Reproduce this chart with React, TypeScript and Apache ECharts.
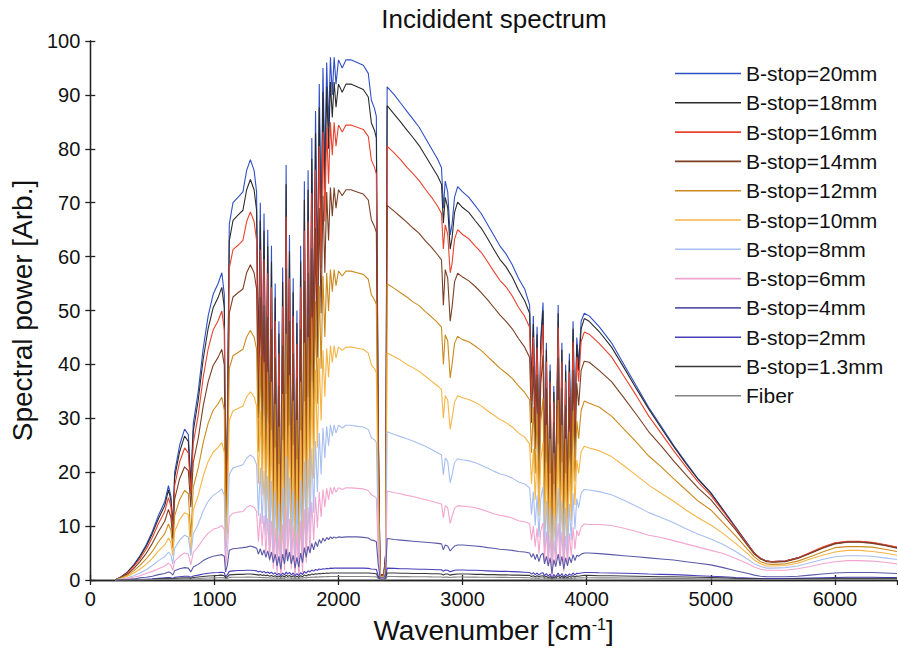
import React, { useEffect, useRef } from "react";
import * as echarts from "echarts";

// Wavenumber grid [cm^-1] shared by all series
const wavenumbers = [
  200, 250, 300, 350, 400, 450, 500, 550, 600, 630, 650, 665, 680, 720, 760, 790, 810, 830, 870, 910, 950, 990, 1030, 1060, 1080, 1090, 1105, 1120, 1150, 1190, 1230, 1260, 1290, 1320,
  1340, 1355, 1370, 1385, 1400, 1415, 1430, 1445, 1460, 1475, 1490, 1505, 1520, 1535, 1550, 1565, 1578, 1590, 1605, 1620, 1635, 1650, 1665, 1680, 1695, 1710, 1725, 1740, 1755, 1770, 1785, 1800, 1815, 1830, 1845, 1860, 1875, 1890, 1905, 1920, 1935, 1950, 1965, 1980,
  2000, 2030, 2060, 2100, 2150, 2200, 2240, 2265, 2290, 2305, 2320, 2335, 2365, 2380, 2392,
  2450, 2500, 2550, 2600, 2650, 2700, 2750, 2800, 2830, 2845, 2860, 2880, 2900, 2915, 2935, 2960, 3000, 3050, 3100, 3150, 3200, 3250, 3300, 3350, 3400, 3450, 3500,
  3540, 3555, 3570, 3585, 3600, 3615, 3630, 3648, 3660, 3675, 3690, 3705, 3720, 3735, 3750, 3770, 3785, 3800, 3815, 3830, 3845, 3860, 3875, 3890, 3905, 3920, 3935, 3955,
  3980, 4020, 4100, 4200, 4300, 4400, 4500, 4600, 4700, 4800, 4900, 5000, 5100, 5200, 5300, 5350, 5400, 5450, 5500, 5600, 5700, 5800, 5900, 6000, 6100, 6200, 6300, 6400, 6500,
];

const seriesNames = [
  "B-stop=20mm", "B-stop=18mm", "B-stop=16mm", "B-stop=14mm", "B-stop=12mm", "B-stop=10mm",
  "B-stop=8mm", "B-stop=6mm", "B-stop=4mm", "B-stop=2mm", "B-stop=1.3mm", "Fiber",
];

const seriesColors = [
  "#2f4fc4", "#2b2b2b", "#e8432e", "#7b3f23", "#cc8a1e", "#f5b547",
  "#a9bff0", "#f2a6cf", "#5b5aa8", "#4a3fb8", "#3a3a3a", "#858585",
];

const bstop20 = [
  0, 0.6, 1.5, 2.8, 4.5, 6.5, 9, 12, 14.5, 17.5, 15.5, 10, 20, 25, 28, 27, 18, 29, 35, 43, 49, 53, 55, 57, 53, 14, 30, 66, 70, 71, 72, 76, 78, 76,
  72, 40, 70, 35, 68, 28, 65, 20, 62, 12, 55, 6, 48, 3, 58, 10, 77, 22, 64, 12, 56, 4, 50, 3, 62, 8, 74, 18, 76, 30, 82, 42, 87, 55, 92, 66, 95, 76, 96, 84, 97, 90, 97, 92,
  96.5, 95, 96.5, 96.5, 96, 95.5, 94, 89, 87.5, 86, 30, 1, 1, 5, 91.5,
  90, 88.5, 87, 85.5, 84, 82, 80, 78, 76.5, 69, 74, 72, 64, 66, 71, 73, 72, 71, 69.5, 68, 66, 64, 62, 60.5, 58.5, 56, 54,
  51, 36, 49, 30, 47, 24, 45, 51.5, 18, 44, 12, 40, 3, 36, 14, 51, 16, 44, 8, 40, 14, 42, 22, 48, 28, 45, 40, 48,
  49.5, 49, 47, 44, 40, 36, 32, 28.5, 25, 21.8, 18.7, 16.2, 13, 9.8, 6.6, 5, 4, 3.5, 3.4, 3.5, 4.1, 5, 6, 6.8, 7.1, 7.1, 6.9, 6.5, 6,
];

const bstop18 = [
  0, 0.6, 1.4, 2.7, 4.3, 6.2, 8.6, 11.4, 13.8, 16.7, 14.8, 9.5, 19.1, 23.8, 26.7, 25.7, 17.2, 27.6, 33.4, 41, 46.7, 50.5, 52.4, 54.3, 50.5, 13.3, 28.6, 62.9, 66.7, 67.7, 68.6, 72.4, 74.3, 72.4,
  68.6, 38.1, 66.7, 33.4, 64.8, 26.7, 61.9, 19.1, 59.1, 11.4, 52.4, 5.7, 45.7, 2.9, 55.3, 9.5, 73.4, 21, 61, 11.4, 53.4, 3.8, 47.7, 2.9, 59.1, 7.6, 70.5, 17.2, 72.4, 28.6, 78.1, 40, 82.9, 52.4, 87.7, 62.9, 90.5, 72.4, 91.5, 80, 92.4, 85.8, 92.4, 87.7,
  92, 90.5, 92, 92, 91.5, 91, 89.6, 84.8, 83.4, 82, 28.6, 1, 1, 4.8, 88,
  86.4, 85, 83.5, 82.1, 80.6, 78.7, 76.8, 74.9, 73.4, 66.2, 71, 69.1, 61.4, 63.4, 68.2, 70.1, 69.1, 68.2, 66.7, 65.3, 63.4, 61.4, 59.5, 58.1, 56.2, 53.8, 51.8,
  49.5, 34.9, 47.5, 29.1, 45.6, 23.3, 43.7, 50, 17.5, 42.7, 11.6, 38.8, 2.9, 34.9, 13.6, 49.5, 15.5, 42.7, 7.8, 38.8, 13.6, 40.7, 21.3, 46.6, 27.2, 43.7, 38.8, 46.6,
  48.5, 48, 46.1, 43.2, 39.4, 35.5, 31.7, 28.2, 24.8, 21.6, 18.6, 16.1, 12.9, 9.7, 6.5, 5, 4, 3.5, 3.4, 3.5, 4.1, 5, 6, 6.8, 7.1, 7.1, 6.9, 6.5, 6,
];

const bstop16 = [
  0, 0.5, 1.3, 2.5, 3.9, 5.7, 7.9, 10.5, 12.7, 15.3, 13.6, 8.8, 17.5, 21.9, 24.5, 23.6, 15.8, 25.4, 30.6, 37.6, 42.9, 46.4, 48.1, 49.9, 46.4, 12.3, 26.3, 57.8, 61.3, 62.1, 63, 66.5, 68.3, 66.5,
  63, 35, 61.3, 30.6, 59.5, 24.5, 56.9, 17.5, 54.3, 10.5, 48.1, 5.3, 42, 2.6, 50.8, 8.8, 67.4, 19.3, 56, 10.5, 49, 3.5, 43.8, 2.6, 54.3, 7, 64.8, 15.8, 66.5, 26.3, 71.8, 36.8, 76.1, 48.1, 80.5, 57.8, 83.1, 66.5, 84, 73.5, 84.9, 78.8, 84.9, 80.5,
  84.4, 83.1, 84.4, 84.4, 84, 83.6, 82.3, 77.9, 76.6, 75.3, 26.3, 0.9, 0.9, 4.4, 80.5,
  79.2, 78, 76.6, 75.4, 74.1, 72.5, 71, 69.3, 68, 61.4, 65.9, 64.1, 57, 58.7, 63.2, 65, 64.1, 63.3, 62, 60.8, 59.1, 57.3, 55.6, 54.4, 52.7, 50.6, 48.9,
  46.9, 33.1, 45.1, 27.6, 43.2, 22.1, 41.4, 47.4, 16.6, 40.5, 11, 36.8, 2.8, 33.1, 12.9, 46.9, 14.7, 40.5, 7.4, 36.8, 12.9, 38.6, 20.2, 44.2, 25.8, 41.4, 36.8, 44.2,
  46, 45.6, 43.9, 41.4, 37.8, 34.2, 30.4, 27.2, 24, 21, 18.1, 15.7, 12.7, 9.6, 6.5, 5, 4, 3.5, 3.4, 3.5, 4.1, 5.1, 6.1, 6.9, 7.2, 7.2, 7, 6.6, 6.1,
];

const bstop14 = [
  0, 0.5, 1.1, 2.1, 3.4, 4.9, 6.8, 9, 10.9, 13.1, 11.6, 7.5, 15, 18.8, 21, 20.3, 13.5, 21.8, 26.3, 32.3, 36.8, 39.8, 41.3, 42.8, 39.8, 10.5, 22.5, 49.5, 52.5, 53.3, 54, 57, 58.5, 57,
  54, 30, 52.5, 26.3, 51, 21, 48.8, 15, 46.5, 9, 41.3, 4.5, 36, 2.3, 43.5, 7.5, 57.8, 16.5, 48, 9, 42, 3, 37.5, 2.3, 46.5, 6, 55.5, 13.5, 57, 22.5, 61.5, 31.5, 65.3, 41.3, 69, 49.5, 71.3, 57, 72, 63, 72.8, 67.5, 72.8, 69,
  72.4, 71.3, 72.4, 72.4, 72, 71.6, 70.5, 66.8, 65.6, 64.5, 22.5, 0.8, 0.8, 3.8, 69.5,
  68.4, 67.4, 66.4, 65.3, 64.3, 62.9, 61.7, 60.3, 59.4, 51, 57.6, 56, 48, 50.6, 55.3, 56.9, 56.2, 55.5, 54.5, 53.3, 52, 50.6, 49.2, 48, 46.6, 44.8, 43.2,
  41.3, 29.2, 39.7, 24.3, 38.1, 19.4, 36.5, 41.7, 14.6, 35.6, 9.7, 32.4, 2.4, 29.2, 11.3, 41.3, 13, 35.6, 6.5, 32.4, 11.3, 34, 17.8, 38.9, 22.7, 36.5, 32.4, 38.9,
  40.6, 40.4, 38.9, 36.8, 33.8, 30.7, 27.5, 24.9, 22.1, 19.5, 17, 14.9, 12.1, 9.3, 6.3, 4.8, 3.9, 3.4, 3.3, 3.4, 4, 4.9, 5.9, 6.7, 7, 7, 6.8, 6.4, 5.9,
];

const bstop12 = [
  0, 0.4, 0.9, 1.7, 2.7, 3.9, 5.3, 7.1, 8.6, 10.4, 9.2, 5.9, 11.9, 14.9, 16.6, 16, 8, 17.2, 20.8, 25.5, 29.1, 31.5, 32.7, 33.9, 31.5, 8.3, 17.8, 39.2, 41.6, 42.2, 42.8, 45.1, 46.3, 45.1,
  42.8, 23.8, 41.6, 20.8, 40.4, 16.6, 38.6, 11.9, 36.8, 7.1, 32.7, 3.6, 28.5, 1.8, 34.5, 5.9, 45.7, 13.1, 38, 7.1, 33.3, 2.4, 29.7, 1.8, 36.8, 4.8, 44, 10.7, 45.1, 17.8, 48.7, 24.9, 51.7, 32.7, 54.6, 39.2, 56.4, 45.1, 57, 49.9, 57.6, 53.5, 57.6, 54.6,
  57.3, 56.4, 57.3, 57.3, 57, 56.7, 55.8, 52.9, 52, 51.1, 17.8, 0.6, 0.6, 3, 54.9,
  54.1, 53.3, 52.5, 51.6, 50.9, 49.8, 48.8, 47.7, 46.9, 40, 45.5, 44.4, 37.5, 40, 43.9, 45.2, 44.6, 44.2, 43.4, 42.6, 41.5, 40.4, 39.3, 38.4, 37.4, 36, 34.8,
  33.4, 23.6, 32.1, 19.7, 30.8, 15.7, 29.5, 33.7, 11.8, 28.8, 7.9, 26.2, 2, 23.6, 9.2, 33.4, 10.5, 28.8, 5.2, 26.2, 9.2, 27.5, 14.4, 31.4, 18.3, 29.5, 26.2, 31.4,
  33.2, 32.8, 32.1, 30.4, 28, 25.6, 23, 21, 18.8, 16.7, 14.6, 13, 10.6, 8.2, 5.6, 4.3, 3.4, 3, 2.9, 3, 3.5, 4.3, 5.2, 6, 6.2, 6.2, 6.1, 5.7, 5.3,
];

const bstop10 = [
  0, 0.3, 0.7, 1.3, 2, 2.9, 4, 5.4, 6.5, 7.8, 6.9, 4.5, 9, 11.2, 12.5, 12.1, 5, 13, 15.7, 19.3, 22, 23.7, 24.6, 25.5, 23.7, 6.3, 13.4, 29.6, 31.4, 31.8, 32.3, 34, 34.9, 34,
  32.3, 17.9, 31.4, 15.7, 30.5, 12.5, 29.1, 9, 27.8, 5.4, 24.6, 2.7, 21.5, 1.3, 26, 4.5, 34.5, 9.9, 28.7, 5.4, 25.1, 1.8, 22.4, 1.3, 27.8, 3.6, 33.2, 8.1, 34, 13.4, 36.7, 18.8, 39, 24.6, 41.2, 29.6, 42.6, 34, 43, 37.6, 43.5, 40.3, 43.5, 41.2,
  43.2, 42.6, 43.2, 43.2, 43, 42.8, 42.1, 39.9, 39.2, 38.5, 13.4, 0.5, 0.5, 2.2, 42.1,
  41.4, 40.8, 40, 39.4, 38.7, 37.8, 36.9, 36, 35.3, 30, 34.2, 33.4, 28, 30, 33, 34.2, 33.8, 33.5, 33, 32.3, 31.4, 30.6, 29.8, 29.2, 28.4, 27.3, 26.5,
  25.2, 17.8, 24.3, 14.9, 23.3, 11.9, 22.3, 25.5, 8.9, 21.8, 5.9, 19.8, 1.5, 17.8, 6.9, 25.2, 7.9, 21.8, 4, 19.8, 6.9, 20.8, 10.9, 23.8, 13.9, 22.3, 19.8, 23.8,
  24.8, 24.5, 24, 22.9, 21.2, 19.4, 17.6, 16.1, 14.6, 13, 11.5, 10.2, 8.6, 6.8, 4.8, 3.7, 3, 2.6, 2.6, 2.7, 3.1, 3.9, 4.6, 5.2, 5.5, 5.5, 5.3, 5, 4.6,
];

const bstop8 = [
  0, 0.2, 0.4, 0.8, 1.3, 1.9, 2.7, 3.6, 4.3, 5.2, 4.6, 3, 5.9, 7.4, 8.3, 8, 4.5, 8.6, 10.4, 12.8, 14.6, 15.7, 16.3, 16.9, 15.7, 4.2, 8.9, 19.6, 20.8, 21.1, 21.4, 22.6, 23.2, 22.6,
  21.4, 11.9, 20.8, 10.4, 20.2, 8.3, 19.3, 5.9, 18.4, 3.6, 16.3, 1.8, 14.3, 0.9, 17.2, 3, 22.9, 6.5, 19, 3.6, 16.6, 1.2, 14.9, 0.9, 18.4, 2.4, 22, 5.3, 22.6, 8.9, 24.4, 12.5, 25.8, 16.3, 27.3, 19.6, 28.2, 22.6, 28.5, 24.9, 28.8, 26.7, 28.8, 27.3,
  28.7, 28.2, 28.7, 28.7, 28.5, 28.4, 27.9, 26.4, 26, 25.5, 8.9, 0.3, 0.3, 1.5, 27.5,
  27, 26.6, 26.2, 25.8, 25.3, 24.8, 24.2, 23.6, 23.2, 19.5, 22.6, 22, 18, 19.5, 21.8, 22.5, 22.3, 22.1, 21.8, 21.3, 20.8, 20.2, 19.7, 19.4, 18.9, 18.2, 17.8,
  17.1, 12.1, 16.4, 10.1, 15.7, 8, 15.1, 17.3, 6, 14.7, 4, 13.4, 1, 12.1, 4.7, 17.1, 5.4, 14.7, 2.7, 13.4, 4.7, 14.1, 7.4, 16.1, 9.4, 15.1, 13.4, 16.1,
  16.8, 16.7, 16.4, 15.8, 14.8, 13.7, 12.5, 11.6, 10.6, 9.5, 8.5, 7.6, 6.6, 5.3, 3.8, 3, 2.5, 2.2, 2.2, 2.3, 2.6, 3.2, 3.8, 4.3, 4.5, 4.5, 4.4, 4.1, 3.8,
];

const bstop6 = [
  0, 0.1, 0.3, 0.5, 0.8, 1.2, 1.6, 2.1, 2.6, 3.1, 2.7, 1.8, 3.5, 4.4, 5, 4.8, 2.8, 5.1, 6.2, 7.6, 8.7, 9.4, 9.7, 10.1, 9.4, 2.5, 5.3, 11.7, 12.4, 12.6, 12.7, 13.5, 13.8, 13.5,
  12.7, 7.1, 12.4, 6.2, 12, 5, 11.5, 3.5, 11, 2.1, 9.7, 1.1, 8.5, 0.5, 10.3, 1.8, 13.6, 3.9, 11.3, 2.1, 9.9, 0.7, 8.9, 0.5, 11, 1.4, 13.1, 3.2, 13.5, 5.3, 14.5, 7.4, 15.4, 9.7, 16.3, 11.7, 16.8, 13.5, 17, 14.9, 17.2, 15.9, 17.2, 16.3,
  17.1, 16.8, 17.1, 17.1, 17, 16.9, 16.6, 15.8, 15.5, 15.2, 5.3, 0.2, 0.2, 0.9, 16.5,
  16.2, 16, 15.7, 15.5, 15.2, 14.9, 14.6, 14.3, 14.1, 11.5, 13.8, 13.4, 10.5, 11.8, 13.3, 13.8, 13.7, 13.6, 13.4, 13.1, 12.7, 12.3, 12, 11.8, 11.5, 11, 10.8,
  10.5, 7.4, 10, 6.2, 9.6, 4.9, 9.2, 10.6, 3.7, 9, 2.5, 8.2, 0.6, 7.4, 2.9, 10.5, 3.3, 9, 1.6, 8.2, 2.9, 8.6, 4.5, 9.8, 5.7, 9.2, 8.2, 9.8,
  10.4, 10.3, 10.3, 10.1, 9.6, 9, 8.3, 7.9, 7.3, 6.7, 6.1, 5.5, 4.9, 4, 3, 2.4, 2, 1.8, 1.8, 1.8, 2.1, 2.5, 3, 3.4, 3.6, 3.6, 3.5, 3.3, 3,
];

const bstop4 = [
  0, 0.05, 0.1, 0.2, 0.4, 0.5, 0.7, 1, 1.2, 1.5, 1.3, 0.9, 1.7, 2.1, 2.3, 2.2, 1.5, 2.4, 2.9, 3.6, 4.1, 4.4, 4.6, 4.7, 4.4, 1.5, 2.8, 5.5, 5.8, 5.9, 6, 6.1, 6.3, 6.1,
  5.9, 4.8, 5.8, 4.6, 5.6, 4.2, 5.4, 3.8, 5.2, 3.2, 4.8, 2.6, 4.4, 2, 4.8, 3, 5.8, 3.5, 5.2, 3, 4.6, 2.2, 4.2, 2.4, 5, 3.2, 6, 4.2, 6.3, 5, 6.8, 5.6, 7.1, 6.2, 7.5, 6.8, 7.8, 7.2, 7.9, 7.5, 8, 7.7, 8, 7.8,
  8, 7.9, 8, 8, 8, 7.9, 7.8, 7.4, 7.3, 7.1, 3, 0.4, 0.4, 1.2, 7.7,
  7.5, 7.4, 7.3, 7.2, 7.1, 7, 6.9, 6.8, 6.7, 5.6, 6.5, 6.3, 5.4, 5.8, 6.3, 6.5, 6.5, 6.4, 6.3, 6.2, 6, 5.9, 5.7, 5.6, 5.5, 5.3, 5.2,
  5, 4.2, 4.9, 3.8, 4.8, 3.4, 4.6, 5, 3, 4.4, 2.6, 4.1, 1.2, 3.8, 2.5, 4.8, 2.6, 4.4, 2, 4.1, 2.6, 4.3, 3.2, 4.7, 3.6, 4.6, 4.4, 4.8,
  5, 5, 4.9, 4.7, 4.5, 4.3, 4.1, 3.9, 3.7, 3.4, 3.1, 2.8, 2.3, 1.7, 1.2, 0.9, 0.7, 0.6, 0.6, 0.6, 0.7, 0.9, 1.1, 1.3, 1.4, 1.4, 1.4, 1.3, 1.2,
];

const bstop2 = [
  0, 0, 0.05, 0.1, 0.1, 0.15, 0.2, 0.3, 0.4, 0.45, 0.4, 0.3, 0.5, 0.6, 0.7, 0.7, 0.5, 0.75, 0.9, 1.1, 1.25, 1.35, 1.4, 1.45, 1.35, 0.6, 1, 1.6, 1.7, 1.75, 1.75, 1.8, 1.8, 1.75,
  1.7, 1.5, 1.65, 1.4, 1.6, 1.3, 1.5, 1.2, 1.45, 1.1, 1.35, 0.9, 1.25, 0.8, 1.3, 0.95, 1.5, 1.1, 1.4, 0.95, 1.3, 0.8, 1.2, 0.8, 1.35, 1, 1.6, 1.25, 1.7, 1.5, 1.85, 1.65, 1.95, 1.8, 2.05, 1.95, 2.1, 2.05, 2.15, 2.1, 2.2, 2.15, 2.2, 2.2,
  2.2, 2.2, 2.2, 2.2, 2.2, 2.2, 2.15, 2.05, 2, 1.95, 0.8, 0.1, 0.1, 0.4, 2.2,
  2.15, 2.1, 2.1, 2.05, 2, 2, 1.95, 1.9, 1.9, 1.6, 1.85, 1.8, 1.55, 1.65, 1.8, 1.85, 1.85, 1.8, 1.8, 1.75, 1.7, 1.65, 1.6, 1.6, 1.55, 1.5, 1.45,
  1.4, 1.1, 1.35, 1, 1.3, 0.9, 1.25, 1.35, 0.8, 1.2, 0.7, 1.1, 0.3, 1, 0.6, 1.3, 0.7, 1.2, 0.5, 1.1, 0.7, 1.15, 0.85, 1.3, 0.95, 1.25, 1.2, 1.3,
  1.4, 1.4, 1.35, 1.3, 1.25, 1.2, 1.1, 1.05, 1, 0.9, 0.8, 0.7, 0.6, 0.45, 0.35, 0.3, 0.25, 0.25, 0.25, 0.25, 0.3, 0.35, 0.4, 0.45, 0.5, 0.5, 0.5, 0.45, 0.45,
];

const bstop13 = [
  0, 0, 0, 0.05, 0.06, 0.1, 0.12, 0.2, 0.25, 0.3, 0.25, 0.2, 0.3, 0.35, 0.4, 0.4, 0.3, 0.45, 0.55, 0.65, 0.75, 0.8, 0.85, 0.9, 0.8, 0.35, 0.6, 0.95, 1, 1.05, 1.05, 1.1, 1.1, 1.05,
  1, 0.9, 1, 0.85, 0.95, 0.8, 0.9, 0.7, 0.85, 0.65, 0.8, 0.55, 0.75, 0.5, 0.8, 0.55, 0.9, 0.65, 0.85, 0.55, 0.8, 0.5, 0.7, 0.5, 0.8, 0.6, 0.95, 0.75, 1, 0.9, 1.1, 1, 1.15, 1.1, 1.2, 1.15, 1.25, 1.2, 1.3, 1.25, 1.3, 1.3, 1.3, 1.3,
  1.3, 1.3, 1.3, 1.3, 1.3, 1.3, 1.3, 1.25, 1.2, 1.15, 0.5, 0.05, 0.05, 0.25, 1.3,
  1.3, 1.25, 1.25, 1.2, 1.2, 1.2, 1.15, 1.15, 1.1, 0.95, 1.1, 1.1, 0.9, 1, 1.05, 1.1, 1.1, 1.1, 1.05, 1.05, 1, 1, 0.95, 0.95, 0.9, 0.9, 0.85,
  0.85, 0.65, 0.8, 0.6, 0.8, 0.55, 0.75, 0.8, 0.5, 0.7, 0.4, 0.65, 0.2, 0.6, 0.35, 0.8, 0.4, 0.7, 0.3, 0.65, 0.4, 0.7, 0.5, 0.8, 0.55, 0.75, 0.7, 0.8,
  0.85, 0.85, 0.8, 0.8, 0.75, 0.7, 0.65, 0.6, 0.6, 0.55, 0.5, 0.45, 0.4, 0.3, 0.25, 0.2, 0.2, 0.15, 0.15, 0.15, 0.2, 0.2, 0.25, 0.3, 0.3, 0.3, 0.3, 0.3, 0.3,
];

const fiber = [
  0, 0, 0, 0, 0.03, 0.05, 0.06, 0.1, 0.12, 0.14, 0.12, 0.1, 0.15, 0.18, 0.2, 0.2, 0.15, 0.22, 0.27, 0.33, 0.38, 0.4, 0.42, 0.44, 0.4, 0.2, 0.3, 0.48, 0.5, 0.52, 0.52, 0.54, 0.54, 0.52,
  0.5, 0.45, 0.5, 0.42, 0.48, 0.4, 0.45, 0.36, 0.43, 0.33, 0.4, 0.27, 0.37, 0.24, 0.39, 0.28, 0.45, 0.33, 0.42, 0.28, 0.39, 0.24, 0.36, 0.24, 0.4, 0.3, 0.48, 0.37, 0.5, 0.45, 0.55, 0.5, 0.58, 0.54, 0.6, 0.58, 0.63, 0.6, 0.64, 0.63, 0.65, 0.64, 0.65, 0.65,
  0.65, 0.65, 0.65, 0.65, 0.65, 0.65, 0.64, 0.6, 0.6, 0.58, 0.25, 0.03, 0.03, 0.12, 0.65,
  0.64, 0.63, 0.62, 0.61, 0.6, 0.6, 0.58, 0.57, 0.57, 0.48, 0.55, 0.54, 0.46, 0.5, 0.54, 0.55, 0.55, 0.54, 0.54, 0.52, 0.51, 0.5, 0.48, 0.48, 0.46, 0.45, 0.44,
  0.42, 0.33, 0.4, 0.3, 0.39, 0.27, 0.37, 0.4, 0.24, 0.36, 0.21, 0.33, 0.09, 0.3, 0.18, 0.39, 0.21, 0.36, 0.15, 0.33, 0.21, 0.34, 0.25, 0.39, 0.28, 0.37, 0.36, 0.39,
  0.42, 0.42, 0.4, 0.39, 0.37, 0.36, 0.33, 0.31, 0.3, 0.27, 0.24, 0.21, 0.18, 0.14, 0.1, 0.09, 0.08, 0.08, 0.08, 0.08, 0.09, 0.1, 0.12, 0.14, 0.15, 0.15, 0.15, 0.14, 0.14,
];

const yTicks = { min: 0, max: 100, interval: 10 };
const xTicks = { min: 0, max: 6500, interval: 1000 };

const FONT = "'Liberation Sans', Arial, sans-serif";

export default function App() {
  const ref = useRef<HTMLDivElement>(null);

  useEffect(() => {
    document.body.style.margin = "0";
    const chart = echarts.init(ref.current!, null, { renderer: "svg" });
    const values = [bstop20, bstop18, bstop16, bstop14, bstop12, bstop10, bstop8, bstop6, bstop4, bstop2, bstop13, fiber];

    const series = seriesNames.map((name, k) => ({
      name,
      type: "line",
      xAxisIndex: 0,
      yAxisIndex: 0,
      symbol: "none",
      showSymbol: false,
      silent: true,
      data: wavenumbers.map((x, i) => [x, values[k][i]]),
      lineStyle: { color: seriesColors[k], width: 1.1 },
      itemStyle: { color: seriesColors[k] },
    }));

    const axisLine = { show: true, lineStyle: { color: "#222", width: 1.3 } };
    const axisTick = { show: true, inside: true, length: 5, lineStyle: { color: "#222", width: 1.3 } };
    const plain = (v: number) => String(v);

    chart.setOption({
      animation: false,
      textStyle: { fontFamily: FONT },
      title: {
        text: "Incidident spectrum",
        left: 489,
        textAlign: "center",
        top: 1,
        textStyle: { fontFamily: FONT, fontSize: 26, fontWeight: "normal", color: "#111" },
      },
      grid: { left: 87, right: 1, top: 41, bottom: 71, containLabel: false },
      legend: {
        orient: "vertical",
        left: 670,
        top: 58,
        itemWidth: 66,
        itemHeight: 1.6,
        itemGap: 8.3,
        icon: "rect",
        selectedMode: false,
        data: seriesNames,
        textStyle: { fontFamily: FONT, fontSize: 21, color: "#111", lineHeight: 21 },
      },
      xAxis: [
        {
          type: "value",
          position: "bottom",
          ...xTicks,
          axisLine,
          axisTick,
          splitLine: { show: false },
          axisLabel: { fontSize: 20, color: "#111", margin: 9, showMaxLabel: false, fontFamily: FONT, formatter: plain },
          name: "{n|Wavenumber [cm}{s|-1}{n|]}",
          nameLocation: "middle",
          nameGap: 36,
          nameTextStyle: {
            rich: {
              n: { fontSize: 28, color: "#111", fontFamily: FONT, verticalAlign: "bottom" },
              s: { fontSize: 16, color: "#111", fontFamily: FONT, verticalAlign: "top" },
            },
          },
        },
        {
          type: "value",
          position: "top",
          ...xTicks,
          axisLine,
          axisTick,
          splitLine: { show: false },
          axisLabel: { show: false },
        },
      ],
      yAxis: [
        {
          type: "value",
          position: "left",
          ...yTicks,
          axisLine,
          axisTick,
          splitLine: { show: false },
          axisLabel: { fontSize: 20, color: "#111", margin: 10, fontFamily: FONT, formatter: plain },
          name: "Spectral power [Arb.]",
          nameLocation: "middle",
          nameGap: 52,
          nameTextStyle: { fontSize: 28, color: "#111", fontFamily: FONT },
        },
        {
          type: "value",
          position: "right",
          ...yTicks,
          axisLine,
          axisTick,
          splitLine: { show: false },
          axisLabel: { show: false },
        },
      ],
      series,
    });

    return () => chart.dispose();
  }, []);

  return <div ref={ref} style={{ width: 898, height: 651 }} />;
}
